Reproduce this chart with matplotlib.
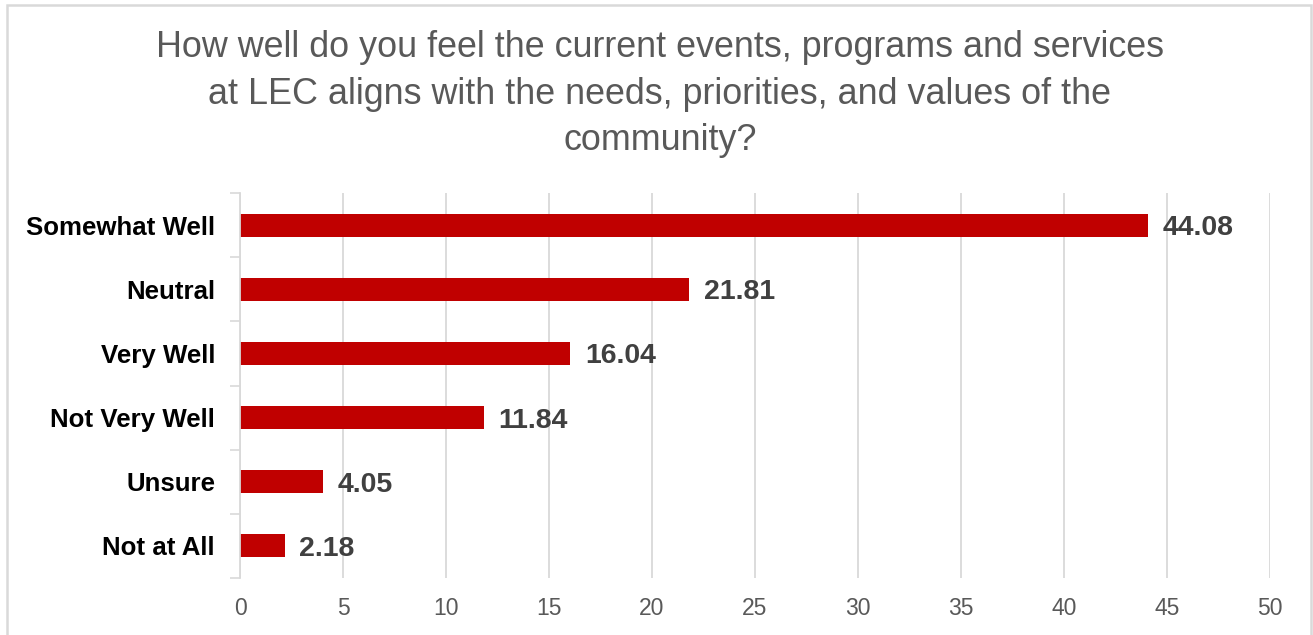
import matplotlib.pyplot as plt
from matplotlib.patches import Rectangle
import numpy as np

plt.rcParams['font.family'] = ['Liberation Sans', 'DejaVu Sans']

categories = ['Somewhat Well', 'Neutral', 'Very Well', 'Not Very Well', 'Unsure', 'Not at All']
values = [44.08, 21.81, 16.04, 11.84, 4.05, 2.18]
title = ('How well do you feel the current events, programs and services\n'
         'at LEC aligns with the needs, priorities, and values of the\n'
         'community?')

W, H = 1313, 635
fig = plt.figure(figsize=(W / 100, H / 100), dpi=100)
ax = fig.add_axes([240 / W, 1 - 578 / H, (1270 - 240) / W, (578 - 193) / H])

y = np.arange(len(categories))
ax.barh(y, values, height=0.36, color='#C00000', zorder=3)
for yi, v in zip(y, values):
    ax.text(v + 0.7, yi, f'{v:.2f}', va='center_baseline', ha='left',
            fontsize=20.5, fontweight='bold', color='#404040', zorder=4)

ax.set_xlim(0, 50)
ax.set_ylim(len(categories) - 0.5, -0.5)
ax.set_xticks(np.arange(0, 51, 5))
ax.set_yticks(y)
ax.set_yticklabels(categories, fontsize=18.6, fontweight='bold', color='black')
ax.set_yticks(np.arange(-0.5, len(categories), 1), minor=True)
ax.tick_params(axis='y', which='major', length=0, pad=18)
ax.tick_params(axis='y', which='minor', length=7, color='#d9d9d9', width=1.2)
ax.tick_params(axis='x', length=0, pad=14, labelsize=16.5, labelcolor='#595959')

ax.grid(axis='x', color='#d9d9d9', linewidth=1.3, zorder=0)
for s in ['top', 'right', 'bottom']:
    ax.spines[s].set_visible(False)
ax.spines['left'].set_color('#d9d9d9')
ax.spines['left'].set_linewidth(1.3)
ax.spines['left'].set_zorder(5)

fig.text(660 / W, 1 - 94 / H, title, ha='center', va='center',
         fontsize=25.8, color='#595959', linespacing=1.42)

fig.patches.append(Rectangle((7 / W, -0.02), (1311 - 7) / W, 1 - 5 / H + 0.02,
                             transform=fig.transFigure, fill=False,
                             edgecolor='#d9d9d9', linewidth=1.8))

fig.savefig('out.png', dpi=100)
